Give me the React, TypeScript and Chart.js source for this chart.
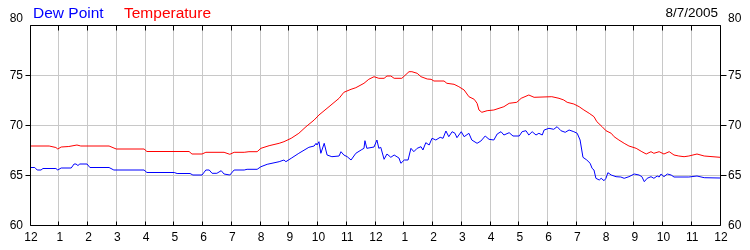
import React, { useEffect, useRef } from "react";
import { Chart, registerables } from "chart.js";

Chart.register(...registerables);

// [minutes since midnight, °F]
const temperatureReadings: [number, number][] = [
  [0, 67.9], [40, 67.9], [54, 67.75], [58, 67.6], [65, 67.8], [81, 67.85], [98, 68.0], [106, 67.9],
  [165, 67.9], [180, 67.6], [238, 67.6], [244, 67.35], [332, 67.35], [338, 67.1], [359, 67.1],
  [367, 67.27], [405, 67.27], [417, 67.07], [426, 67.27], [447, 67.27], [457, 67.33], [474, 67.33],
  [482, 67.67], [499, 67.93], [520, 68.17], [530, 68.33], [545, 68.67], [561, 69.17], [576, 69.83],
  [593, 70.5], [603, 71.0], [624, 71.83], [645, 72.67], [655, 73.27], [670, 73.57], [680, 73.73],
  [697, 74.17], [707, 74.57], [718, 74.83], [728, 74.67], [739, 74.67], [745, 74.9], [753, 74.9],
  [760, 74.67], [776, 74.67], [791, 75.33], [797, 75.33], [808, 75.17], [816, 74.83], [829, 74.6],
  [837, 74.57], [843, 74.4], [864, 74.4], [870, 74.17], [885, 74.07], [895, 73.83], [906, 73.5],
  [916, 72.83], [927, 72.57], [933, 72.17], [937, 71.5], [943, 71.27], [954, 71.43], [968, 71.5],
  [989, 71.83], [1000, 72.17], [1016, 72.27], [1025, 72.67], [1041, 73.0], [1052, 72.77],
  [1089, 72.83], [1104, 72.67], [1114, 72.5], [1121, 72.27], [1135, 72.1], [1146, 71.83],
  [1156, 71.5], [1167, 71.17], [1177, 70.83], [1183, 70.33], [1194, 69.83], [1202, 69.43],
  [1213, 69.17], [1219, 68.83], [1229, 68.5], [1240, 68.17], [1250, 67.9], [1265, 67.67],
  [1277, 67.33], [1286, 67.1], [1296, 67.33], [1302, 67.17], [1313, 67.33], [1323, 67.1],
  [1334, 67.33], [1344, 67.0], [1354, 66.9], [1365, 66.83], [1375, 66.9], [1392, 67.1],
  [1407, 66.9], [1440, 66.77],
];

const dewPointReadings: [number, number][] = [
  [0, 65.75], [10, 65.75], [15, 65.5], [23, 65.5], [27, 65.65], [54, 65.65], [58, 65.5], [65, 65.7],
  [86, 65.7], [92, 66.1], [96, 66.1], [100, 65.95], [104, 66.1], [119, 66.1], [125, 65.75],
  [165, 65.75], [175, 65.5], [238, 65.5], [244, 65.25], [301, 65.25], [307, 65.15], [334, 65.15],
  [340, 65.0], [359, 65.0], [367, 65.5], [374, 65.5], [380, 65.17], [390, 65.17], [399, 65.43],
  [405, 65.1], [417, 65.0], [426, 65.5], [447, 65.5], [453, 65.57], [474, 65.57], [482, 65.83],
  [495, 66.07], [520, 66.33], [530, 66.5], [534, 66.33], [545, 66.67], [561, 67.17], [582, 67.77],
  [593, 67.9], [597, 68.17], [599, 68.0], [603, 68.33], [607, 67.17], [614, 68.17], [620, 67.0],
  [630, 66.83], [645, 66.9], [649, 67.33], [655, 67.0], [662, 66.83], [670, 66.5], [680, 67.17],
  [691, 67.5], [697, 67.67], [699, 68.43], [703, 67.67], [718, 67.8], [724, 68.5], [728, 67.67],
  [732, 67.77], [739, 66.57], [745, 67.1], [753, 66.77], [760, 67.0], [770, 66.7], [774, 66.17],
  [781, 66.5], [789, 66.5], [795, 67.67], [801, 67.33], [808, 67.67], [816, 67.83], [820, 67.5],
  [826, 68.23], [833, 68.0], [839, 68.67], [847, 68.5], [856, 68.77], [862, 68.67], [868, 69.4],
  [874, 68.83], [881, 69.33], [887, 69.17], [891, 68.73], [900, 69.33], [906, 68.83], [916, 69.17],
  [922, 68.5], [933, 68.17], [941, 68.4], [950, 68.9], [958, 68.57], [968, 68.5], [975, 69.1],
  [983, 69.33], [989, 69.0], [1000, 69.23], [1008, 68.9], [1021, 68.9], [1027, 69.33],
  [1035, 69.43], [1041, 69.0], [1048, 69.33], [1056, 69.0], [1062, 69.17], [1069, 69.0],
  [1073, 69.5], [1083, 69.67], [1093, 69.57], [1100, 69.83], [1108, 69.43], [1117, 69.27],
  [1125, 69.5], [1135, 69.33], [1142, 69.17], [1148, 68.5], [1154, 66.77], [1162, 66.5],
  [1169, 66.17], [1173, 65.67], [1177, 65.5], [1181, 64.67], [1188, 64.5], [1192, 64.67],
  [1198, 64.43], [1202, 64.67], [1206, 65.23], [1213, 65.0], [1223, 64.83], [1233, 64.8],
  [1240, 64.67], [1250, 64.83], [1261, 65.1], [1271, 65.0], [1277, 64.83], [1282, 64.33],
  [1288, 64.67], [1296, 64.83], [1302, 64.67], [1309, 64.9], [1313, 64.8], [1317, 65.1],
  [1323, 64.83], [1330, 65.1], [1338, 65.0], [1344, 64.8], [1375, 64.8], [1392, 64.9],
  [1407, 64.73], [1440, 64.7],
];

const hourLabels = ["12", "1", "2", "3", "4", "5", "6", "7", "8", "9", "10", "11",
  "12", "1", "2", "3", "4", "5", "6", "7", "8", "9", "10", "11", "12"];
const yTickValues = [60, 65, 70, 75, 80];
const dateLabel = "8/7/2005";
const seriesNames = ["Dew Point", "Temperature"];
const seriesColors = ["#0000ff", "#ff0000"];

const FONT = "'Liberation Sans', Arial, sans-serif";

const framePlugin = {
  id: "frame",
  afterDraw(chart: any) {
    const { ctx, chartArea: a, scales } = chart;
    const xs = scales.x;
    const ys = scales.y;
    const al = (p: number) => Math.round(p - 0.5) + 0.5;
    ctx.save();
    ctx.strokeStyle = "#000";
    ctx.lineWidth = 1;
    const L = al(a.left), R = al(a.right), T = al(a.top), B = al(a.bottom);
    ctx.beginPath();
    ctx.rect(L, T, R - L, B - T);
    // hour ticks (inward) top and bottom
    hourLabels.forEach((_, i) => {
      const px = al(xs.getPixelForValue(i * 60));
      ctx.moveTo(px, B);
      ctx.lineTo(px, B - 4);
      ctx.moveTo(px, T);
      ctx.lineTo(px, T + 5);
    });
    yTickValues.forEach((v) => {
      if (v === 60 || v === 80) return;
      const py = al(ys.getPixelForValue(v));
      ctx.moveTo(L - 5, py);
      ctx.lineTo(L, py);
      ctx.moveTo(R, py);
      ctx.lineTo(R + 6, py);
    });
    ctx.stroke();

    ctx.fillStyle = "#000";
    ctx.font = `12px ${FONT}`;
    ctx.textBaseline = "middle";
    ctx.textAlign = "center";
    hourLabels.forEach((lab, i) => {
      const px = xs.getPixelForValue(i * 60);
      ctx.fillText(lab, px + 1, 238);
    });
    yTickValues.forEach((v) => {
      let py = ys.getPixelForValue(v);
      if (v === 80) py -= 7;
      ctx.textAlign = "right";
      ctx.fillText(String(v), 23, py + 0.5);
      ctx.textAlign = "left";
      ctx.fillText(String(v), 728, py + 0.5);
    });

    ctx.textBaseline = "alphabetic";
    ctx.textAlign = "left";
    ctx.font = `15.5px ${FONT}`;
    ctx.fillStyle = seriesColors[0];
    ctx.fillText(seriesNames[0], 33, 17.5);
    ctx.fillStyle = seriesColors[1];
    ctx.fillText(seriesNames[1], 124, 17.5);

    ctx.fillStyle = "#000";
    ctx.font = `13.5px ${FONT}`;
    ctx.textAlign = "right";
    ctx.fillText(dateLabel, 718, 17);
    ctx.restore();
  },
};

export default function App() {
  const canvasRef = useRef<HTMLCanvasElement | null>(null);

  useEffect(() => {
    document.body.style.margin = "0";
    const canvas = canvasRef.current;
    if (!canvas) return;
    const chart = new Chart(canvas, {
      type: "line",
      data: {
        datasets: [
          {
            label: seriesNames[0],
            data: dewPointReadings.map(([x, y]) => ({ x, y })),
            borderColor: seriesColors[0],
            borderWidth: 1,
            pointRadius: 0,
            tension: 0,
            fill: false,
          },
          {
            label: seriesNames[1],
            data: temperatureReadings.map(([x, y]) => ({ x, y })),
            borderColor: seriesColors[1],
            borderWidth: 1,
            pointRadius: 0,
            tension: 0,
            fill: false,
          },
        ],
      },
      options: {
        responsive: false,
        animation: false,
        events: [],
        layout: { padding: { top: 25, left: 0, right: 0, bottom: 0 } },
        plugins: {
          legend: { display: false },
          tooltip: { enabled: false },
          title: { display: false },
        },
        scales: {
          x: {
            type: "linear",
            min: 0,
            max: 1440,
            position: "bottom",
            ticks: { display: false, stepSize: 60, autoSkip: false },
            grid: { color: "#c8c8c8", lineWidth: 1, drawTicks: false },
            border: { display: false },
            afterFit: (s: any) => { s.height = 25; },
          },
          y: {
            type: "linear",
            min: 60,
            max: 80,
            position: "left",
            ticks: { display: false, stepSize: 5 },
            grid: { color: "#c8c8c8", lineWidth: 1, drawTicks: false },
            border: { display: false },
            afterFit: (s: any) => { s.width = 30; },
          },
          y2: {
            type: "linear",
            min: 60,
            max: 80,
            position: "right",
            ticks: { display: false, stepSize: 5 },
            grid: { display: false, drawTicks: false },
            border: { display: false },
            afterFit: (s: any) => { s.width = 30; },
          },
        },
      },
      plugins: [framePlugin],
    });
    return () => chart.destroy();
  }, []);

  return (
    <div style={{ width: 750, height: 250, background: "#fff" }}>
      <canvas ref={canvasRef} width={750} height={250} style={{ display: "block", width: 750, height: 250 }} />
    </div>
  );
}
